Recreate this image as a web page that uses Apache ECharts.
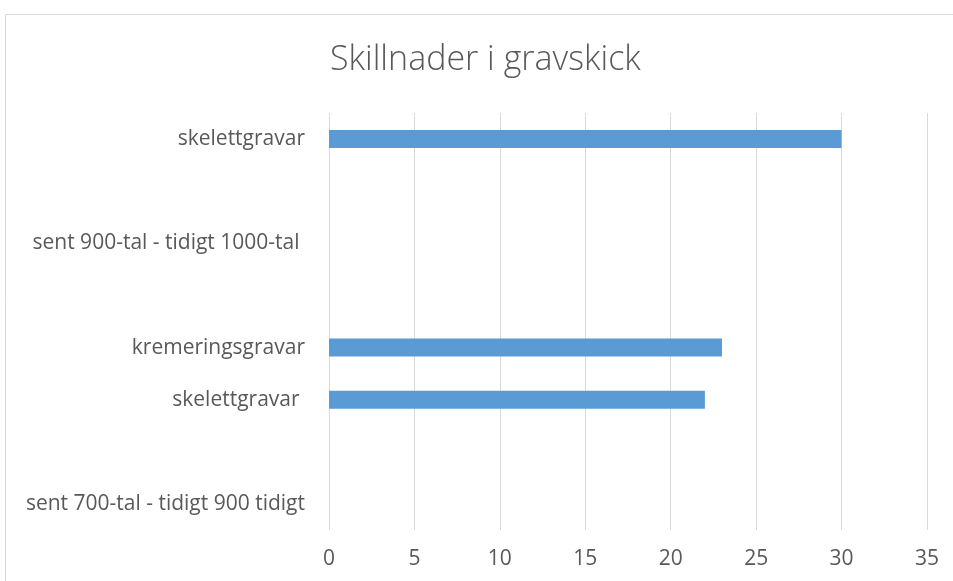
<!DOCTYPE html>
<html>
<head>
<meta charset="utf-8">
<script src="https://cdn.jsdelivr.net/npm/echarts@6/dist/echarts.min.js"></script>
<style>
  html, body { margin: 0; padding: 0; background: #fff; }
  #chart { width: 953px; height: 581px; }
</style>
</head>
<body>
<div id="chart"></div>
<script>
  // categories bottom to top, blank rows are spacer categories
  const categories = [
    'sent 700-tal - tidigt 900 tidigt',
    ' ',
    'skelettgravar ',
    'kremeringsgravar',
    '  ',
    'sent 900-tal - tidigt 1000-tal ',
    '   ',
    'skelettgravar'
  ]
  const values = [null, null, 22, 23, null, null, null, 30]
  const xTicks = { min: 0, max: 35, interval: 5 }

  const chart = echarts.init(document.getElementById('chart'))
  chart.setOption({
    animation: false,
    textStyle: { fontFamily: 'Open Sans' },
    title: {
      text: 'Skillnader i gravskick',
      left: 325,
      top: 38,
      textStyle: { fontSize: 34, fontWeight: 300, color: '#595959', fontFamily: 'Open Sans' }
    },
    graphic: [{
      type: 'rect',
      shape: { x: 5.5, y: 14.5, width: 980, height: 620 },
      style: { fill: 'none', stroke: '#d9d9d9', lineWidth: 1 },
      silent: true
    }],
    grid: { left: 329, right: 26, top: 113, bottom: 51 },
    xAxis: {
      type: 'value',
      min: xTicks.min,
      max: xTicks.max,
      interval: xTicks.interval,
      axisLine: { show: false },
      axisTick: { show: false },
      axisLabel: { color: '#595959', fontSize: 21, margin: 19 },
      splitLine: { lineStyle: { color: '#d9d9d9', width: 1 } }
    },
    yAxis: {
      type: 'category',
      data: categories,
      axisLine: { show: false },
      axisTick: { show: false },
      axisLabel: { color: '#595959', fontSize: 21, margin: 24 }
    },
    series: [{
      type: 'bar',
      data: values,
      barWidth: 18,
      itemStyle: { color: '#5b9bd5' }
    }]
  })
</script>
</body>
</html>
